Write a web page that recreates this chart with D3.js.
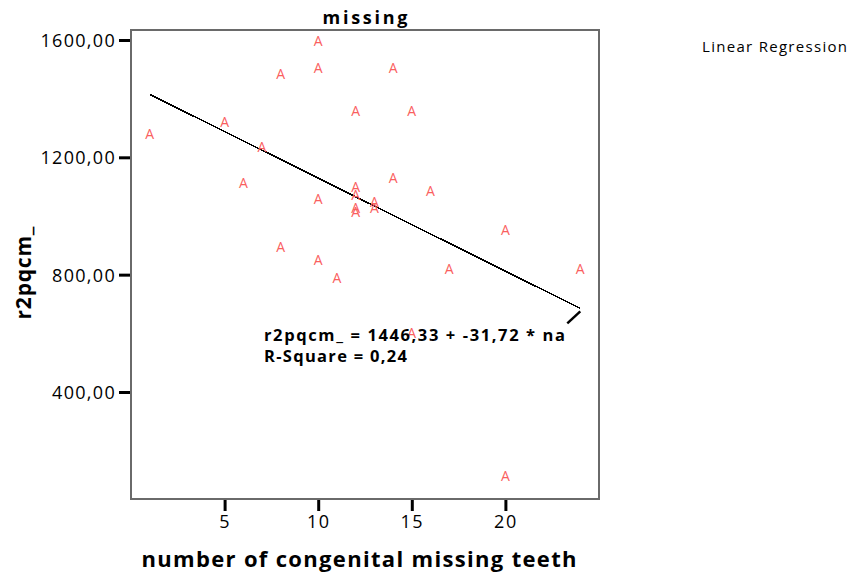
<!DOCTYPE html>
<html><head><meta charset="utf-8">
<script src="https://cdn.jsdelivr.net/npm/d3@7"></script>
<style>body{margin:0;background:#fff}svg{display:block}</style>
</head><body><svg id="c" width="854" height="579"></svg>
<script>
// ---- data ----
const xValues = [1, 5, 6, 7, 8, 8, 10, 10, 10, 10, 11, 12, 12, 12, 12, 12, 13, 13, 14, 14, 15, 15, 16, 17, 20, 20, 24];
const yValues = [1280, 1320, 1112, 1235, 1484, 894, 1595, 1504, 1058, 850, 788, 1358, 1099, 1071, 1027, 1013, 1048, 1027, 1504, 1129, 1358, 600, 1085, 819, 952, 113, 819];
const xTicks = [5, 10, 15, 20];
const yTicks = [400, 800, 1200, 1600];
const yTickLabels = ["400,00", "800,00", "1200,00", "1600,00"];
const fitRange = [1, 24];
const intercept = 1446.33, slope = -31.72;
const equationText = "r2pqcm_ = 1446,33 + -31,72 * na";
const rSquareText = "R-Square = 0,24";
const titleText = "missing";
const xTitle = "number of congenital missing teeth";
const yTitle = "r2pqcm_";
const legendText = "Linear Regression";

const svg = d3.select("#c");
const L = 131, R = 599, T = 30, B = 499;
const x = d3.scaleLinear().domain([0, 25]).range([L, R]);
const y = d3.scaleLinear().domain([35.2, 1634]).range([B, T]);
const FONT = "Open Sans";

function fit(sel, w) { sel.attr("textLength", w).attr("lengthAdjust", "spacing"); return sel; }

// frame
svg.append("rect").attr("x", L).attr("y", T).attr("width", R - L).attr("height", B - T)
  .attr("fill", "none").attr("stroke", "#6a6a6a").attr("stroke-width", 2);

// y axis
const yAxis = d3.axisLeft(y).tickValues(yTicks).tickSize(11).tickPadding(3)
  .tickFormat((d, i) => yTickLabels[i]);
const gy = svg.append("g").attr("transform", `translate(${L - 1},0)`).call(yAxis);
gy.select(".domain").remove();
gy.selectAll(".tick line").attr("stroke", "#000").attr("stroke-width", 3);
gy.selectAll(".tick text").attr("font-family", FONT).attr("font-size", 18)
  .attr("fill", "#000").attr("letter-spacing", 1.3).attr("dy", "0.36em");

// x axis
const xAxis = d3.axisBottom(x).tickValues(xTicks).tickSize(11).tickPadding(4);
const gx = svg.append("g").attr("transform", `translate(0,${B + 1})`).call(xAxis);
gx.select(".domain").remove();
gx.selectAll(".tick line").attr("stroke", "#000").attr("stroke-width", 3);
gx.selectAll(".tick text").attr("font-family", FONT).attr("font-size", 18)
  .attr("fill", "#000").attr("letter-spacing", 1.5).attr("dy", "0.71em");

// regression line
const fitLine = d3.line().x(d => x(d)).y(d => y(intercept + slope * d));
svg.append("path").datum(fitRange).attr("d", fitLine).attr("fill", "none")
  .attr("stroke", "#000").attr("stroke-width", 1.6).attr("shape-rendering", "crispEdges");

// points
svg.append("g").selectAll("text").data(xValues).join("text")
  .attr("x", d => x(d)).attr("y", (d, i) => y(yValues[i]))
  .attr("dy", "0.36em").attr("text-anchor", "middle")
  .attr("font-family", FONT).attr("font-size", 14).attr("fill", "#fa5f5f")
  .text("A");

// equation label + leader
const ex = x(fitRange[1]), ey = y(intercept + slope * fitRange[1]);
svg.append("line").attr("x1", ex).attr("y1", ey + 3).attr("x2", ex - 13).attr("y2", ey + 15)
  .attr("stroke", "#000").attr("stroke-width", 2.5);
fit(svg.append("text").attr("x", 264).attr("y", 341).attr("font-family", FONT)
  .attr("font-weight", "bold").attr("font-size", 16.5).text(equationText), 301);
fit(svg.append("text").attr("x", 264).attr("y", 362).attr("font-family", FONT)
  .attr("font-weight", "bold").attr("font-size", 16.5).text(rSquareText), 143);

// titles
fit(svg.append("text").attr("x", (L + R) / 2).attr("y", 24).attr("text-anchor", "middle")
  .attr("font-family", FONT).attr("font-weight", "bold").attr("font-size", 18).text(titleText), 85);
fit(svg.append("text").attr("x", 359).attr("y", 567).attr("text-anchor", "middle")
  .attr("font-family", FONT).attr("font-weight", "bold").attr("font-size", 22).text(xTitle), 435);
fit(svg.append("text").attr("transform", "translate(31,273) rotate(-90)").attr("text-anchor", "middle")
  .attr("font-family", FONT).attr("font-weight", "bold").attr("font-size", 21).text(yTitle), 93);
fit(svg.append("text").attr("x", 702).attr("y", 52)
  .attr("font-family", FONT).attr("font-size", 15).text(legendText), 145);
</script></body></html>
